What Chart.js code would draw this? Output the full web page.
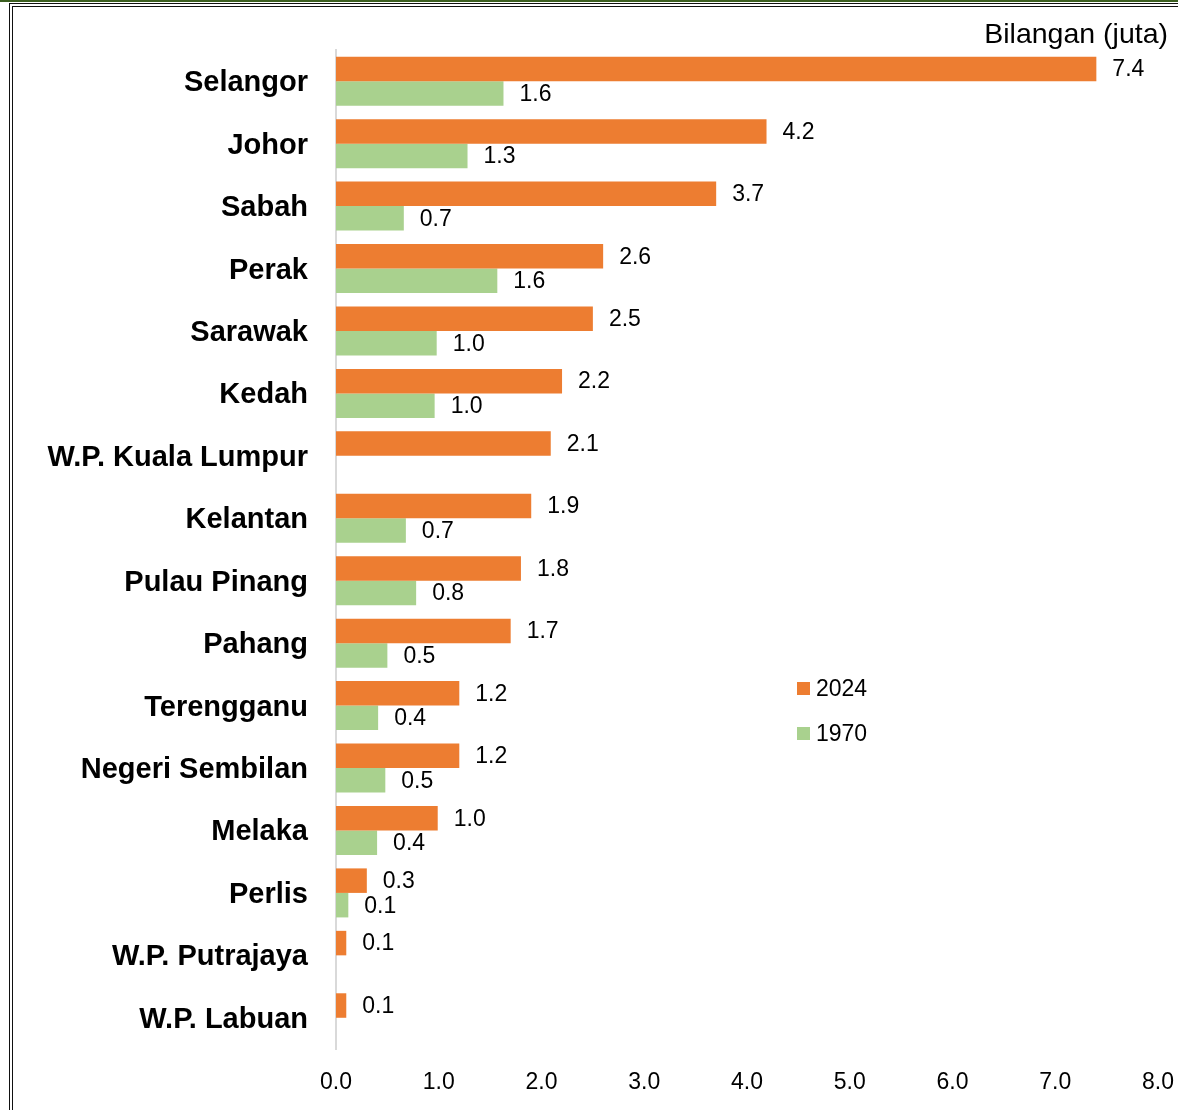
<!DOCTYPE html>
<html>
<head>
<meta charset="utf-8">
<script src="https://cdn.jsdelivr.net/npm/chart.js@4"></script>
<style>
    html, body { margin: 0; padding: 0; background: #fff; overflow: hidden; }
    #wrap { position: relative; width: 1178px; height: 1110px; overflow: hidden; }
    #topline { position: absolute; left: 0; top: 0; width: 1178px; height: 2px; background: #3b5e1f; }
    #frame { position: absolute; left: 9px; top: 3px; width: 1400px; height: 1300px;
             border-left: 4px double #111; border-top: 4px double #111; }
    #reqChart { position: absolute; left: 0; top: 0; }
</style>
</head>
<body>
<div id="wrap">
    <div id="topline"></div>
    <div id="frame"></div>
    <canvas id="reqChart" width="1178" height="1110"></canvas>
</div>
<script>
const states = ['Selangor', 'Johor', 'Sabah', 'Perak', 'Sarawak', 'Kedah', 'W.P. Kuala Lumpur',
    'Kelantan', 'Pulau Pinang', 'Pahang', 'Terengganu', 'Negeri Sembilan', 'Melaka', 'Perlis',
    'W.P. Putrajaya', 'W.P. Labuan'];
const pop2024 = [7.40, 4.19, 3.70, 2.60, 2.50, 2.20, 2.09, 1.90, 1.80, 1.70, 1.20, 1.20, 0.99, 0.30, 0.10, 0.10];
const pop1970 = [1.63, 1.28, 0.66, 1.57, 0.98, 0.96, null, 0.68, 0.78, 0.50, 0.41, 0.48, 0.40, 0.12, null, null];
const xTicks = [0, 1, 2, 3, 4, 5, 6, 7, 8];
const unitLabel = 'Bilangan (juta)';

const FONT = "'Liberation Sans', Arial, sans-serif";

document.addEventListener("DOMContentLoaded", function () {

    // value labels at the end of each bar
    const barLabels = {
        id: 'barLabels',
        afterDatasetsDraw(chart) {
            const ctx = chart.ctx;
            ctx.save();
            ctx.font = '23px ' + FONT;
            ctx.fillStyle = '#000';
            ctx.textAlign = 'left';
            ctx.textBaseline = 'middle';
            chart.data.datasets.forEach((ds, i) => {
                const meta = chart.getDatasetMeta(i);
                meta.data.forEach((bar, j) => {
                    const v = ds.data[j];
                    if (v === null || v === undefined) return;
                    ctx.fillText(v.toFixed(1), bar.x + 16, bar.y + 1);
                });
            });
            ctx.restore();
        }
    };

    // unit label + legend placed inside the plot
    const extras = {
        id: 'extras',
        afterDraw(chart) {
            const ctx = chart.ctx;
            ctx.save();
            ctx.fillStyle = '#000';
            ctx.font = '28.5px ' + FONT;
            ctx.textAlign = 'right';
            ctx.textBaseline = 'middle';
            ctx.fillText(unitLabel, 1168, 35);

            const lx = 797, ly = 689, gap = 45;
            ctx.font = '23px ' + FONT;
            ctx.textAlign = 'left';
            chart.data.datasets.forEach((ds, i) => {
                const y = ly + i * gap;
                ctx.fillStyle = ds.backgroundColor;
                ctx.fillRect(lx, y - 7, 13, 13);
                ctx.fillStyle = '#000';
                ctx.fillText(ds.label, lx + 19, y + 1);
            });
            ctx.restore();
        }
    };

    const ctx = document.getElementById("reqChart");
    new Chart(ctx, {
        type: 'bar',
        data: {
            labels: states,
            datasets: [
                { label: '2024', data: pop2024, backgroundColor: '#ED7D31' },
                { label: '1970', data: pop1970, backgroundColor: '#A9D18E' }
            ]
        },
        options: {
            indexAxis: 'y',
            responsive: false,
            animation: false,
            devicePixelRatio: 1,
            layout: { padding: { top: 50, right: 20, left: 0, bottom: 0 } },
            datasets: { bar: { categoryPercentage: 0.785, barPercentage: 1.0, skipNull: false } },
            plugins: { legend: { display: false }, tooltip: { enabled: false } },
            scales: {
                x: {
                    min: 0, max: 8,
                    afterBuildTicks: s => { s.ticks = xTicks.map(v => ({ value: v })); },
                    ticks: {
                        callback: v => Number(v).toFixed(1),
                        font: { family: FONT, size: 23 },
                        color: '#000',
                        padding: 12,
                        maxRotation: 0
                    },
                    grid: { display: false },
                    border: { display: false },
                    afterFit: s => { s.height = 61; s.paddingLeft = 0; s.paddingRight = 0; }
                },
                y: {
                    ticks: {
                        font: { family: FONT, size: 29, weight: 'bold' },
                        color: '#000',
                        padding: 20,
                        labelOffset: 2
                    },
                    grid: { display: false },
                    border: { display: true, color: '#D9D9D9', width: 2 },
                    afterFit: s => { s.width = 336; }
                }
            }
        },
        plugins: [barLabels, extras]
    });
});
</script>
</body>
</html>
